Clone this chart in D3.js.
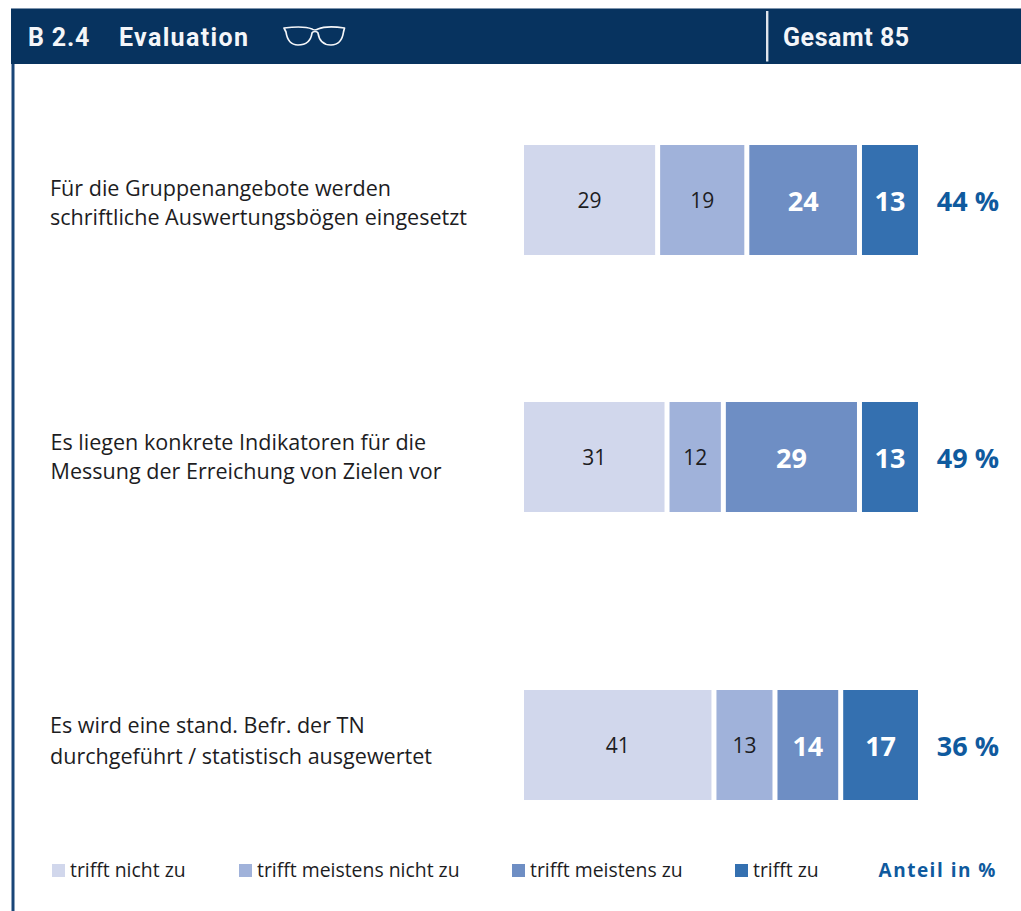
<!DOCTYPE html>
<html><head><meta charset="utf-8">
<script src="https://cdn.jsdelivr.net/npm/d3@7/dist/d3.min.js"></script>
<style>html,body{margin:0;padding:0;background:#fff}svg{display:block}</style>
</head><body><div id="c"></div>
<script>
const categories = [
  ["Für die Gruppenangebote werden","schriftliche Auswertungsbögen eingesetzt"],
  ["Es liegen konkrete Indikatoren für die","Messung der Erreichung von Zielen vor"],
  ["Es wird eine stand. Befr. der TN","durchgeführt / statistisch ausgewertet"]
];
const seriesNames = ["trifft nicht zu","trifft meistens nicht zu","trifft meistens zu","trifft zu"];
const trifftNicht = [29,31,41];
const meistensNicht = [19,12,13];
const meistensZu = [24,29,14];
const trifftZu = [13,13,17];
const shares = ["44 %","49 %","36 %"];
const total = 85;
const title = "Evaluation", code = "B 2.4", totalLabel = "Gesamt 85", unitLabel = "Anteil in %";

const colors = ["#d1d7ec","#a0b2da","#6e8ec4","#3470b0"];
const W=1021,H=911;
const sansFont = "'Open Sans','Noto Sans',sans-serif";
const headFont = "Roboto,'Noto Sans',sans-serif";
const x = d3.scaleLinear().domain([0,total]).range([521.5,920.5]);
const yCenter = d3.scaleOrdinal().domain([0,1,2]).range([200,457,745]);
const barH = 110, inset = 2.5;
const svg = d3.select("#c").append("svg").attr("width",W).attr("height",H);

// frame + header
svg.append("rect").attr("x",11.5).attr("y",60).attr("width",3).attr("height",H-60).attr("fill","#1a4678");
svg.append("rect").attr("x",11).attr("y",8.5).attr("width",W-11).attr("height",55.5).attr("fill","#07335f");
svg.append("rect").attr("x",11).attr("y",8).attr("width",W-11).attr("height",1).attr("fill","#7f95ad");
svg.append("rect").attr("x",766).attr("y",11).attr("width",2.4).attr("height",50.5).attr("fill","#dfe5ec");
const head = (t,xp)=>svg.append("text").attr("x",xp).attr("y",46).text(t)
  .attr("font-family",headFont).attr("font-weight",700).attr("font-size",25).attr("fill","#f4f6f9");
head(code,28).attr("letter-spacing",0.8);
head(title,119).attr("letter-spacing",1.35);
head(totalLabel,783).attr("letter-spacing",0.55);

// glasses icon
const g = svg.append("g").attr("fill","none").attr("stroke","#f4f6f9").attr("stroke-width",1.7).attr("stroke-linejoin","round");
g.append("path").attr("d","M284 28 C296 26.5 306 26.5 312 29 C313 30 316 30 318 29 C324 26.5 334 26.5 344.5 28 L343.5 32 C342.5 39 340 45 331 45 C322 45 319 40 318 33 C317 31 313 31 312 33 C311 40 307 45 298 45 C290 45 287 39 286 32 Z");

// rows
categories.forEach((lines,i)=>{
  const cy = yCenter(i);
  const vals=[trifftNicht[i],meistensNicht[i],meistensZu[i],trifftZu[i]];
  let cum=0;
  vals.forEach((v,j)=>{
    const x0=x(cum)+inset, x1=x(cum+v)-inset;
    svg.append("rect").attr("x",x0).attr("y",cy-barH/2).attr("width",x1-x0).attr("height",barH).attr("fill",colors[j]);
    const strong=j>=2;
    svg.append("text").attr("x",(x0+x1)/2).attr("y",cy+(strong?10.5:8)).attr("text-anchor","middle").text(v)
      .attr("font-family",sansFont).attr("font-weight",strong?700:400).attr("font-size",strong?27:21)
      .attr("fill",strong?"#fff":"#1d1d1f");
    cum+=v;
  });
  svg.append("text").attr("x",999).attr("y",cy+10.5).attr("text-anchor","end").text(shares[i])
    .attr("font-family",sansFont).attr("font-weight",700).attr("font-size",27).attr("fill","#0f5a9e");
  const lineOffsets=[[-4.5,24.5],[-7,22],[-12,18.5]][i];
  lines.forEach((l,k)=>{
    svg.append("text").attr("x",i===1?50.5:50).attr("y",cy+lineOffsets[k]).text(l)
      .attr("font-family",sansFont).attr("font-size",21.55).attr("fill","#1d1d1f");
  });
});

// legend
const legendX = d3.scaleOrdinal().domain(seriesNames).range([52,239,512,735]);
seriesNames.forEach((n,j)=>{
  const lx=legendX(n);
  svg.append("rect").attr("x",lx).attr("y",864).attr("width",13).attr("height",13).attr("fill",colors[j]);
  svg.append("text").attr("x",lx+18).attr("y",877).text(n)
    .attr("font-family",sansFont).attr("font-size",19.4).attr("fill","#1d1d1f");
});
svg.append("text").attr("x",997).attr("y",877).attr("text-anchor","end").text(unitLabel)
  .attr("font-family",sansFont).attr("font-weight",700).attr("font-size",19).attr("letter-spacing",1.5).attr("fill","#0f5a9e");
</script></body></html>
